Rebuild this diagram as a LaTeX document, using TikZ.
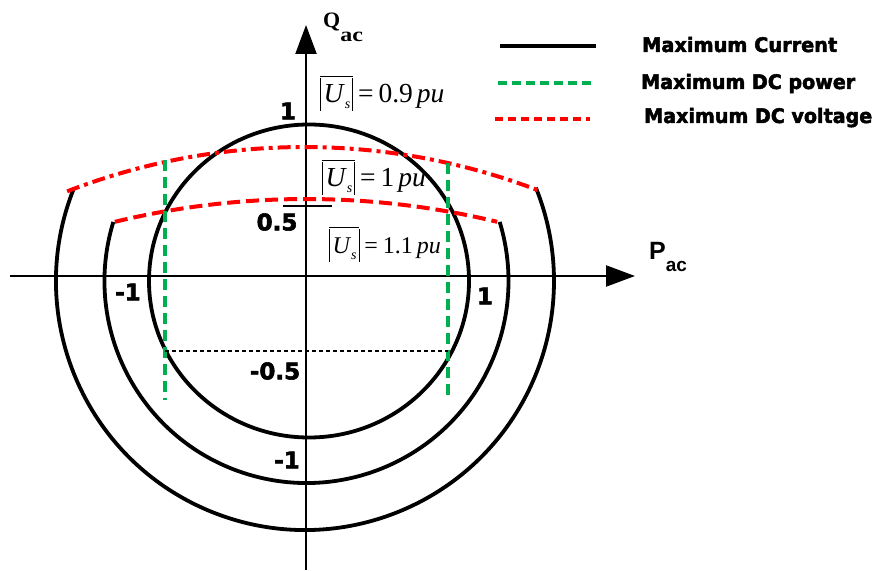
\documentclass[tikz,border=0pt]{standalone}
\usepackage{fontspec}
\usepackage{graphicx}
\setmainfont{Liberation Serif}
\newfontfamily\heavyfont[FakeBold=2.5]{DejaVu Sans Bold}
\newfontfamily\axfont{Liberation Sans}
\usetikzlibrary{arrows.meta}
\definecolor{dgreen}{RGB}{0,176,80}
\definecolor{dred}{RGB}{255,0,0}
\newcommand{\absUs}{\vbox{\hrule height 0.8pt\kern 1.5pt\hbox{\vrule width 0.8pt height 25pt depth 8pt\kern 2.5pt\textit{U}\raisebox{-6pt}{\fontsize{14}{14}\selectfont\textit{s}}\kern 2pt\vrule width 0.8pt height 25pt depth 8pt}}}
\newcommand{\uslab}[2]{{\fontsize{#2}{27}\selectfont\absUs\kern5pt=\kern5pt#1\kern4pt\textit{pu}}}
\newcommand{\axnum}[1]{{\heavyfont\fontsize{23}{25}\selectfont #1}}
\newcommand{\legtext}[2]{\resizebox{#1}{\height}{\heavyfont\fontsize{20}{23}\selectfont #2}}
\tikzset{
  axisline/.style={line width=2.2pt, -{Triangle[length=29pt,width=21pt]}},
  curve/.style={line width=3.8pt, black},
  greenline/.style={line width=3.6pt, dgreen, dash pattern=on 11pt off 6pt},
  reddash/.style={line width=4pt, dred, dash pattern=on 13pt off 6pt},
  reddd/.style={line width=4pt, dred, dash pattern=on 13pt off 5pt on 4pt off 5pt},
  thindash/.style={line width=1.3pt, black, dash pattern=on 4pt off 3pt},
  numlab/.style={inner sep=0pt},
  leglab/.style={inner sep=0pt, anchor=base west},
  mathlab/.style={inner sep=0pt, anchor=base west},
}
\begin{document}
\begin{tikzpicture}[x=1pt,y=1pt]
\useasboundingbox (0,0) rectangle (874,570);
% axes
\coordinate (xs) at (10,294);
\coordinate (xe) at (635,294);
\coordinate (ys) at (306,0);
\coordinate (ye) at (306,545);
\draw[axisline] (xs) -- (xe);
\draw[axisline] (ys) -- (ye);
% tick 0.5
\coordinate (t1) at (283,364);
\coordinate (t2) at (332,364);
\draw[line width=2.2pt] (t1) -- (t2);
% current circles
\draw[curve] (309,289) ellipse[x radius=160, y radius=156.5];
\draw[curve] (306.5,289) ++(163:202) arc[start angle=163, end angle=377, radius=202];
\draw[curve] (305,289) ++(158:249) arc[start angle=158, end angle=382, radius=249];
% DC voltage limits
\draw[reddd] (304,-232) ++(111.2:655) arc[start angle=111.2, end angle=68.8, radius=655];
\draw[reddash] (306,-442) ++(103.6:813) arc[start angle=103.6, end angle=76.4, radius=813];
% DC power limits
\coordinate (g1a) at (165,410);
\coordinate (g1b) at (165,170);
\coordinate (g2a) at (448,407);
\coordinate (g2b) at (448,170);
\draw[greenline] (g1a) -- (g1b);
\draw[greenline] (g2a) -- (g2b);
\coordinate (h1) at (165,219);
\coordinate (h2) at (448,219);
\draw[thindash] (h1) -- (h2);
% axis labels
\node[inner sep=0pt, anchor=base west] (q) at (323,542) {\bfseries\fontsize{22}{24}\selectfont Q\raisebox{-14pt}{\scalebox{1.2}[1]{\fontsize{20}{20}\selectfont ac}}};
\node[inner sep=0pt, anchor=base west] (p) at (649,310) {\axfont\bfseries\fontsize{25}{28}\selectfont P\raisebox{-12pt}{\fontsize{19}{20}\selectfont ac}};
% numbers
\node[numlab] (n1t) at (288,459) {\axnum{1}};
\node[numlab] (n05) at (277,348) {\axnum{0.5}};
\node[numlab] (nm1l) at (128,278) {\axnum{-1}};
\node[numlab] (n1r) at (485,274) {\axnum{1}};
\node[numlab] (nm05) at (275,199) {\axnum{-0.5}};
\node[numlab] (nm1b) at (287,110) {\axnum{-1}};
% voltage labels
\node[mathlab] (u09) at (320,467) {\uslab{0.9}{27.5}};
\node[mathlab] (u1) at (322,383) {\uslab{1}{27.5}};
\node[mathlab] (u11) at (329,316) {\uslab{1.1}{24}};
% legend
\coordinate (l1a) at (500,524);
\coordinate (l1b) at (596,524);
\coordinate (l2a) at (498,487);
\coordinate (l2b) at (594,487);
\coordinate (l3a) at (495,451);
\coordinate (l3b) at (590,451);
\draw[line width=3.8pt] (l1a) -- (l1b);
\draw[line width=3.2pt, dgreen, dash pattern=on 9pt off 5pt] (l2a) -- (l2b);
\draw[line width=3.2pt, dred, dash pattern=on 8pt off 5pt] (l3a) -- (l3b);
\node[leglab] (lt1) at (642,518) {\legtext{195pt}{Maximum Current}};
\node[leglab] (lt2) at (641,481) {\legtext{214pt}{Maximum DC power}};
\node[leglab] (lt3) at (644,447) {\legtext{228pt}{Maximum DC voltage}};
\end{tikzpicture}
\end{document}
